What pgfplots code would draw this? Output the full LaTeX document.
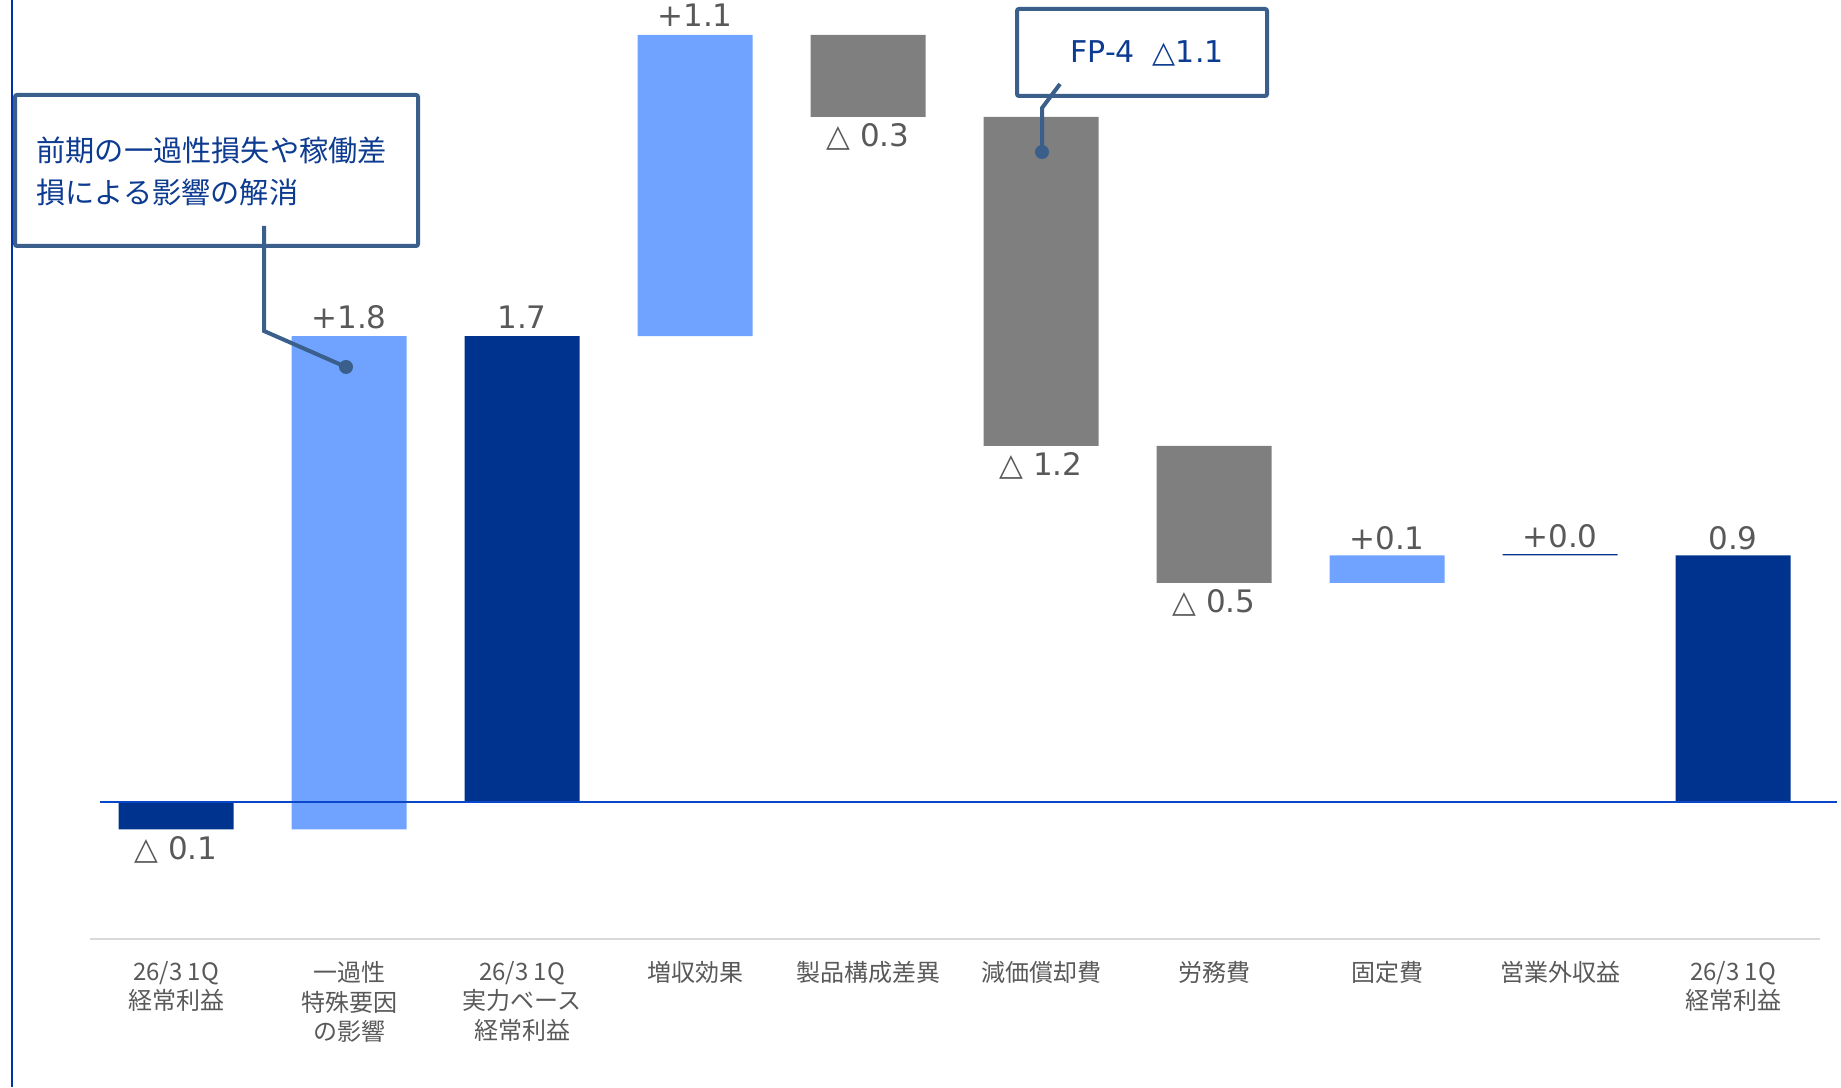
\documentclass[border=0pt]{standalone}
\usepackage{pgfplots}
\usepackage{pgfplotstable}
\pgfplotsset{compat=1.18}
\usepackage{fontspec}
\setmainfont{DejaVu Sans}
\newfontfamily\cjk{Noto Sans CJK JP}
\newfontfamily\cjkn{Noto Sans CJK JP}
\newfontfamily\numf{DejaVu Sans}
\definecolor{darkbar}{RGB}{0,51,141}
\definecolor{lightbar}{RGB}{111,163,255}
\definecolor{graybar}{RGB}{127,127,127}
\definecolor{lbl}{RGB}{89,89,89}
\definecolor{callb}{RGB}{58,95,139}
\definecolor{callt}{RGB}{13,59,145}
\definecolor{zeroln}{RGB}{10,70,200}
\definecolor{leftln}{RGB}{0,51,170}
\definecolor{botln}{RGB}{217,217,217}

\pgfplotstableread{
x base dark light gray
0 0 -0.1 0 0
1 -0.1 0 1.8 0
2 0 1.7 0 0
3 1.7 0 1.1 0
4 2.5 0 0 0.3
5 1.3 0 0 1.2
6 0.8 0 0 0.5
7 0.8 0 0.1 0
8 0.9 0.005 0 0
9 0 0.9 0 0
}\bars

\pgfplotstableread[col sep=comma]{
x,y,label
0,-0.175,△ 0.1
1,1.77,+1.8
2,1.77,1.7
3,2.87,+1.1
4,2.427,△ 0.3
5,1.226,△ 1.2
6,0.726,△ 0.5
7,0.964,+0.1
8,0.969,+0.0
9,0.964,0.9
}\labels

\begin{document}
\begin{tikzpicture}
\path[use as bounding box] (0,0) rectangle (920.5pt,543.5pt);
\begin{scope}[x=0.5pt,y=-0.5pt,shift={(0,543.5pt)}]
  \draw[leftln, line width=0.6pt] (12,0) -- (12,1087);
\end{scope}
\begin{axis}[
  at={(44.75pt,74pt)}, anchor=south west,
  scale only axis, width=865pt, height=469.5pt,
  xmin=-0.5, xmax=9.5, ymin=-0.5, ymax=2.927,
  ybar stacked, stack negative=on previous, bar width=57.5pt,
  axis x line=bottom, axis y line=none,
  x axis line style={draw=botln, line width=1pt, -},
  ytick=\empty,
  xtick={0,...,9},
  xticklabels={{26/3 1Q\\経常利益},{一過性\\特殊要因\\の影響},{26/3 1Q\\実力ベース\\経常利益},{増収効果},{製品構成差異},{減価償却費},{労務費},{固定費},{営業外収益},{26/3 1Q\\経常利益}},
  major tick length=0pt,
  xticklabel style={font=\cjk\fontsize{12}{14.6}\selectfont, text=lbl, align=center, anchor=north, yshift=-7.8pt},
  clip=false,
]
\addplot[draw=none, fill=none] table[x=x,y=base] {\bars};
\addplot[draw=none, fill=darkbar] table[x=x,y=dark] {\bars};
\addplot[draw=none, fill=lightbar] table[x=x,y=light] {\bars};
\addplot[draw=none, fill=graybar] table[x=x,y=gray] {\bars};
\end{axis}
\begin{scope}[x=0.5pt,y=-0.5pt,shift={(0,543.5pt)}]
  \draw[zeroln, line width=0.8pt] (100,802) -- (1837,802);
\end{scope}
\begin{axis}[
  at={(44.75pt,74pt)}, anchor=south west,
  scale only axis, width=865pt, height=469.5pt,
  xmin=-0.5, xmax=9.5, ymin=-0.5, ymax=2.927,
  hide axis, clip=false,
]
\addplot[only marks, mark=*, mark size=0pt, mark options={draw=none,fill=none},
  nodes near coords, point meta=explicit symbolic,
  nodes near coords style={anchor=center, font=\numf\fontsize{15.5}{18}\selectfont, text=lbl}]
  table[x=x,y=y,meta=label] {\labels};
\end{axis}
\begin{scope}[x=0.5pt,y=-0.5pt,shift={(0,543.5pt)}]
  % callout 1
  \draw[callb, line width=2pt, rounded corners=1pt, fill=white] (15,95) rectangle (418,246);
  \node[anchor=west, text=callt, font=\cjkn\fontsize{14.6}{21}\selectfont, inner sep=0pt] at (36,150) {前期の一過性損失や稼働差};
  \node[anchor=west, text=callt, font=\cjkn\fontsize{14.6}{21}\selectfont, inner sep=0pt] at (36,192) {損による影響の解消};
  \draw[callb, line width=2pt] (264,226) -- (264,331) -- (346,367);
  \fill[callb] (346,367) circle (7);
  % callout 2
  \draw[callb, line width=2pt, rounded corners=1pt, fill=white] (1017,9) rectangle (1267,96);
  \node[text=callt, font=\numf\fontsize{15}{18}\selectfont, inner sep=0pt] at (1147,53) {FP-4\hspace{0.6em}△1.1};
  \draw[callb, line width=2pt] (1060,84) -- (1042,108) -- (1042,152);
  \fill[callb] (1042,152) circle (7);
\end{scope}
\end{tikzpicture}
\end{document}
